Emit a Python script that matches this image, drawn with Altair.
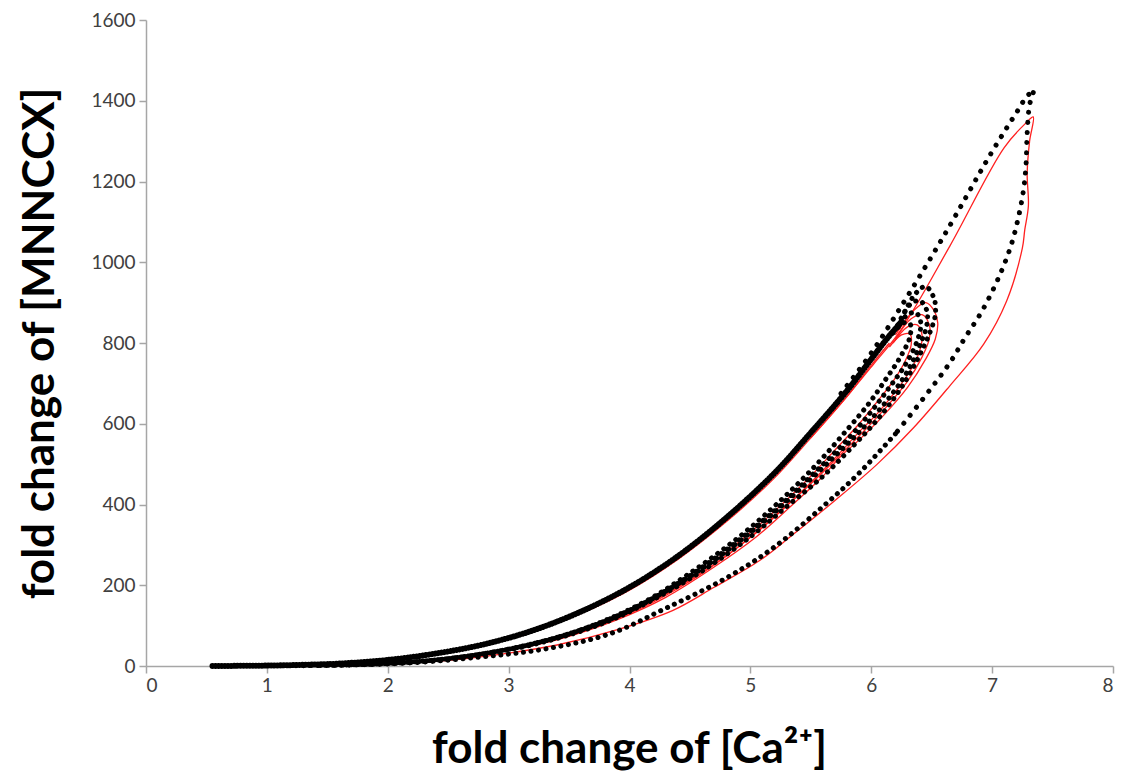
import altair as alt
import pandas as pd

# ---------------- black dotted series (model A) ----------------
# common rising branch (dense dots)
BU_X = [0.55, 0.8, 1.0, 1.3, 1.6, 2.0, 2.4, 2.8, 3.2, 3.6, 4.0, 4.4, 4.8, 5.2, 5.5, 5.8, 6.0, 6.15, 6.25]
BU_Y = [0, 0.5, 1, 3, 6, 15, 31, 54, 88, 135, 195, 272, 367, 478, 578, 682, 760, 818, 852]

# first (largest) loop, rising part above the band
BOU_X = [5.75, 6.0, 6.24, 6.6, 6.99, 7.2, 7.30, 7.34]
BOU_Y = [675, 775, 887, 1065, 1269, 1370, 1415, 1420]

# first loop, falling part (upper section)
BOD1_X = [7.34, 7.31, 7.29, 7.28, 7.26, 7.22, 7.16, 7.07, 6.92, 6.78, 6.65, 6.46, 6.2]
BOD1_Y = [1420, 1390, 1320, 1240, 1180, 1115, 1045, 973, 881, 815, 751, 674, 575]

# first loop, falling part (lower section)
BOD2_X = [6.2, 5.9, 5.6, 5.2, 4.8, 4.3, 3.84, 3.3, 2.76, 2.2, 1.6, 1.0]
BOD2_Y = [575, 478, 395, 295, 218, 143, 80, 42, 22, 8, 2, 0.3]

# smaller loops
BL1_X = [6.25, 6.36, 6.45, 6.52, 6.53, 6.49, 6.40, 6.25, 6.05, 5.85, 5.6, 5.3, 5.0, 4.6, 4.2, 3.8, 3.3, 2.8, 2.3, 1.8, 1.3]
BL1_Y = [860, 920, 940, 910, 870, 830, 770, 690, 610, 545, 470, 395, 320, 235, 165, 108, 60, 30, 12, 4, 1]
BL2_X = [6.22, 6.32, 6.40, 6.46, 6.46, 6.41, 6.30, 6.15, 5.95, 5.7, 5.4, 5.1, 4.7, 4.3, 3.9, 3.4, 2.9, 2.4, 1.9, 1.4]
BL2_Y = [845, 895, 905, 880, 845, 800, 730, 665, 595, 520, 435, 355, 262, 185, 123, 70, 36, 15, 5, 1]
BL3_X = [6.2, 6.30, 6.37, 6.41, 6.38, 6.28, 6.15, 6.0, 5.8, 5.5, 5.2, 4.8, 4.4, 4.0, 3.5, 3.0, 2.5, 2.0, 1.5]
BL3_Y = [835, 870, 875, 850, 805, 745, 690, 630, 560, 470, 385, 288, 205, 138, 80, 42, 18, 6, 1.5]
BL4_X = [6.18, 6.27, 6.32, 6.32, 6.24, 6.12, 5.98, 5.8, 5.55, 5.25, 4.9, 4.5, 4.1, 3.6, 3.1, 2.6, 2.1, 1.6]
BL4_Y = [825, 850, 848, 815, 765, 710, 650, 585, 500, 410, 318, 230, 155, 90, 48, 22, 8, 2]

# ---------------- red solid series (model B) ----------------
RU_X = [0.9, 1.3, 1.6, 2.0, 2.4, 2.8, 3.2, 3.6, 4.0, 4.4, 4.8, 5.2, 5.5, 5.8, 6.0, 6.15]
RU_Y = [0.5, 2.5, 5.5, 14, 29, 51, 84, 130, 188, 264, 357, 466, 565, 668, 745, 800]

RO_X = [5.5, 5.8, 6.02, 6.24, 6.65, 7.1, 7.28, 7.34, 7.31, 7.29, 7.30, 7.27, 7.25, 7.12, 6.93, 6.65, 6.35, 6.05,
        5.7, 5.35, 5.08, 4.7, 4.36, 3.9, 3.4, 3.0, 2.5, 2.0, 1.5]
RO_Y = [565, 668, 748, 830, 1040, 1284, 1345, 1360, 1300, 1220, 1140, 1080, 1035, 904, 797, 694, 590, 500,
        410, 325, 262, 195, 138, 90, 52, 32, 14, 5, 1]

R1_X = [6.2, 6.35, 6.45, 6.52, 6.55, 6.53, 6.45, 6.3, 6.1, 5.9, 5.75, 5.6, 5.35, 5.05, 4.7, 4.3, 3.9, 3.4, 2.9, 2.4, 1.9]
R1_Y = [820, 880, 900, 880, 850, 810, 760, 690, 620, 560, 520, 470, 400, 320, 245, 170, 115, 65, 34, 14, 4]
R2_X = [6.2, 6.33, 6.42, 6.48, 6.48, 6.42, 6.3, 6.12, 5.95, 5.8, 5.6, 5.35, 5.05, 4.7, 4.3, 3.9, 3.4, 2.9, 2.4, 1.9]
R2_Y = [810, 860, 870, 845, 810, 765, 705, 640, 585, 540, 480, 410, 330, 252, 178, 120, 68, 36, 15, 5]
R3_X = [6.18, 6.3, 6.38, 6.42, 6.4, 6.32, 6.2, 6.05, 5.9, 5.7, 5.45, 5.15, 4.8, 4.4, 4.0, 3.5, 3.0, 2.5, 2.0]
R3_Y = [800, 840, 845, 820, 780, 730, 680, 625, 580, 515, 440, 358, 272, 192, 130, 75, 40, 17, 6]
R4_X = [6.15, 6.25, 6.32, 6.33, 6.28, 6.18, 6.05, 5.9, 5.7, 5.45, 5.15, 4.8, 4.4, 4.0, 3.5, 3.0, 2.5, 2.0]
R4_Y = [790, 820, 822, 795, 755, 705, 655, 600, 535, 455, 370, 282, 200, 136, 80, 42, 18, 6]

X_TICKS = [0, 1, 2, 3, 4, 5, 6, 7, 8]
Y_TICKS = [0, 200, 400, 600, 800, 1000, 1200, 1400, 1600]
X_TITLE = "fold change of [Ca²⁺]"
Y_TITLE = "fold change of [MNNCCX]"


def frame(name, xs, ys):
    return pd.DataFrame({"x": xs, "y": ys, "curve": name, "idx": list(range(len(xs)))})


dense = frame("bu", BU_X, BU_Y)
mid = pd.concat([frame("bod2", BOD2_X, BOD2_Y), frame("bl1", BL1_X, BL1_Y), frame("bl2", BL2_X, BL2_Y),
                 frame("bl3", BL3_X, BL3_Y), frame("bl4", BL4_X, BL4_Y)])
sparse = pd.concat([frame("bou", BOU_X, BOU_Y), frame("bod1", BOD1_X, BOD1_Y)])
red = pd.concat([frame("ru", RU_X, RU_Y), frame("ro", RO_X, RO_Y), frame("r1", R1_X, R1_Y),
                 frame("r2", R2_X, R2_Y), frame("r3", R3_X, R3_Y), frame("r4", R4_X, R4_Y)])

xs = alt.Scale(domain=[0, 8], nice=False, zero=False)
ys = alt.Scale(domain=[0, 1600], nice=False)

x_axis = alt.Axis(values=X_TICKS, format="d", title=X_TITLE, titleX=483, titleY=96,
                  titleBaseline="alphabetic", titleAlign="center", labelPadding=3)
y_axis = alt.Axis(values=Y_TICKS, format="d", title=Y_TITLE, titleX=-106, titleY=323,
                  titleAngle=-90, titleAlign="center", titleBaseline="middle", labelPadding=4)


def enc(ch):
    return ch.encode(
        x=alt.X("x:Q", scale=xs, axis=x_axis),
        y=alt.Y("y:Q", scale=ys, axis=y_axis),
        detail="curve:N",
        order="idx:Q",
    )


red_layer = enc(alt.Chart(red).mark_line(color="#ff2020", strokeWidth=1.3, interpolate="catmull-rom"))


def dots(df, gap, w=5):
    return enc(alt.Chart(df).mark_line(color="black", strokeWidth=w, strokeCap="round",
                                       strokeDash=[0.1, gap], interpolate="catmull-rom"))


chart = alt.layer(
    red_layer,
    dots(dense, 3, 6),
    dots(mid, 7.5),
    dots(sparse, 10),
).properties(
    width=967, height=646,
    padding={"left": 138, "top": 12, "right": 2, "bottom": 112},
    autosize=alt.AutoSizeParams(type="none"),
).configure_view(stroke=None).configure_axis(
    grid=False,
    domainColor="#a6a6a6", domainWidth=1.5,
    tickColor="#a6a6a6", tickWidth=1.5, tickSize=7,
    labelFont="Lato", labelFontSize=19, labelColor="#404040",
    titleFont="Lato", titleFontWeight="bold", titleFontSize=44, titleColor="black",
)

chart.save("out.html", embed_options={"renderer": "svg", "actions": False})
